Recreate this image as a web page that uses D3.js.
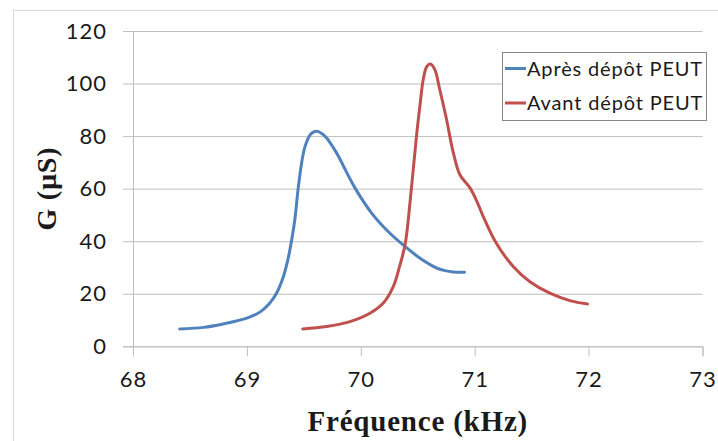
<!DOCTYPE html>
<html>
<head>
<meta charset="utf-8">
<script src="https://cdn.jsdelivr.net/npm/d3@7"></script>
<style>
  html, body { margin: 0; padding: 0; background: #fff; }
  svg { display: block; }
</style>
</head>
<body>
<svg id="chart" width="718" height="441"></svg>
<script>
// Conductance G (µS) versus frequency (kHz), before and after PEUT deposition
const apresFreq = [68.41, 68.62, 68.79, 69.00, 69.12, 69.20, 69.26, 69.32, 69.36, 69.38, 69.42, 69.45, 69.48, 69.51, 69.555, 69.58, 69.61, 69.65, 69.70, 69.76, 69.80, 69.95, 70.095, 70.24, 70.39, 70.53, 70.60, 70.67, 70.74, 70.81, 70.91];
const apresG    = [6.6, 7.2, 8.5, 10.7, 13.2, 16.4, 20.2, 26.5, 33.0, 37.3, 48.0, 60.0, 69.7, 76.0, 80.5, 81.4, 81.8, 81.2, 79.3, 75.5, 72.6, 60.2, 50.7, 43.7, 37.9, 33.2, 31.3, 29.7, 28.8, 28.3, 28.2];

const avantFreq = [69.49, 69.70, 69.905, 70.08, 70.20, 70.285, 70.34, 70.39, 70.435, 70.49, 70.52, 70.55, 70.58, 70.61, 70.65, 70.69, 70.75, 70.81, 70.87, 70.96, 71.02, 71.075, 71.19, 71.34, 71.485, 71.66, 71.835, 71.99];
const avantG    = [6.6, 7.5, 9.4, 12.6, 16.6, 22.7, 30.3, 39.0, 56.0, 80.5, 91.9, 102.0, 106.5, 107.4, 105.3, 98.3, 86.9, 74.1, 65.3, 60.2, 55.1, 49.4, 39.2, 30.3, 24.6, 20.2, 17.4, 16.1];

const xTicks = [68, 69, 70, 71, 72, 73];
const yTicks = [0, 20, 40, 60, 80, 100, 120];

const seriesNames = ["Après dépôt PEUT", "Avant dépôt PEUT"];
const seriesColors = ["#4f81bd", "#c0504d"];

const xTitle = "Fréquence (kHz)";
const yTitle = "G (µS)";

const svg = d3.select("#chart");
const plot = { left: 133, right: 702.5, top: 31, bottom: 346.3 };

// chart area frame
svg.append("rect")
  .attr("x", 13.5).attr("y", 10.5)
  .attr("width", 800).attr("height", 500)
  .attr("fill", "#fff").attr("stroke", "#d9d9d9").attr("stroke-width", 1);

const x = d3.scaleLinear().domain([68, 73]).range([plot.left, plot.right]);
const y = d3.scaleLinear().domain([0, 120]).range([plot.bottom, plot.top]);

const gridColor = "#bfbfbf";
const tickFont = "Lato, 'Open Sans', sans-serif";

// horizontal gridlines with outward ticks
const yAxis = svg.append("g")
  .attr("transform", `translate(${plot.left},0)`)
  .call(d3.axisLeft(y).tickValues(yTicks).tickSize(10).tickPadding(16).tickFormat(d3.format("d")));
yAxis.select(".domain").attr("stroke", gridColor);
yAxis.selectAll(".tick line").attr("stroke", gridColor);
yAxis.selectAll(".tick").append("line")
  .attr("x1", 0).attr("x2", plot.right - plot.left)
  .attr("stroke", gridColor);
yAxis.selectAll(".tick text")
  .attr("font-family", tickFont).attr("font-size", 22)
  .attr("letter-spacing", 1).attr("fill", "#1a1a1a");

const xAxis = svg.append("g")
  .attr("transform", `translate(0,${plot.bottom})`)
  .call(d3.axisBottom(x).tickValues(xTicks).tickSize(10).tickPadding(15).tickFormat(d3.format("d")));
xAxis.select(".domain").attr("stroke", gridColor);
xAxis.selectAll(".tick line").attr("stroke", gridColor);
xAxis.selectAll(".tick text")
  .attr("font-family", tickFont).attr("font-size", 22)
  .attr("letter-spacing", 1).attr("fill", "#1a1a1a");

// series lines (smoothed)
const line = d3.line()
  .x(d => x(d[0]))
  .y(d => y(d[1]))
  .curve(d3.curveCatmullRom.alpha(0.5));

const series = [
  d3.zip(apresFreq, apresG),
  d3.zip(avantFreq, avantG)
];

svg.append("g").selectAll("path")
  .data(series)
  .join("path")
  .attr("d", line)
  .attr("fill", "none")
  .attr("stroke", (d, i) => seriesColors[i])
  .attr("stroke-width", 3)
  .attr("stroke-linejoin", "round")
  .attr("stroke-linecap", "round");

// axis titles
svg.append("text")
  .attr("x", (plot.left + plot.right) / 2)
  .attr("y", 431)
  .attr("text-anchor", "middle")
  .attr("font-family", "'Liberation Serif', 'Times New Roman', serif")
  .attr("font-weight", "bold")
  .attr("font-size", 29)
  .attr("letter-spacing", 0.8)
  .attr("fill", "#1a1a1a")
  .text(xTitle);

svg.append("text")
  .attr("transform", `translate(56,${(plot.top + plot.bottom) / 2}) rotate(-90)`)
  .attr("text-anchor", "middle")
  .attr("font-family", "'Liberation Serif', 'Times New Roman', serif")
  .attr("font-weight", "bold")
  .attr("font-size", 28)
  .attr("letter-spacing", 0.8)
  .attr("fill", "#1a1a1a")
  .text(yTitle);

// legend
const legend = svg.append("g");
legend.append("rect")
  .attr("x", 502.5).attr("y", 52.5)
  .attr("width", 204).attr("height", 68)
  .attr("fill", "#fff").attr("stroke", "#888").attr("stroke-width", 1);

const rows = legend.selectAll("g.row")
  .data(seriesNames)
  .join("g")
  .attr("class", "row")
  .attr("transform", (d, i) => `translate(0,${68.5 + i * 34.5})`);
rows.append("line")
  .attr("x1", 505).attr("x2", 526)
  .attr("stroke", (d, i) => seriesColors[i])
  .attr("stroke-width", 3);
rows.append("text")
  .attr("x", 527).attr("y", 7)
  .attr("font-family", tickFont).attr("font-size", 20)
  .attr("letter-spacing", 0.85).attr("fill", "#1a1a1a")
  .text(d => d);
</script>
</body>
</html>
